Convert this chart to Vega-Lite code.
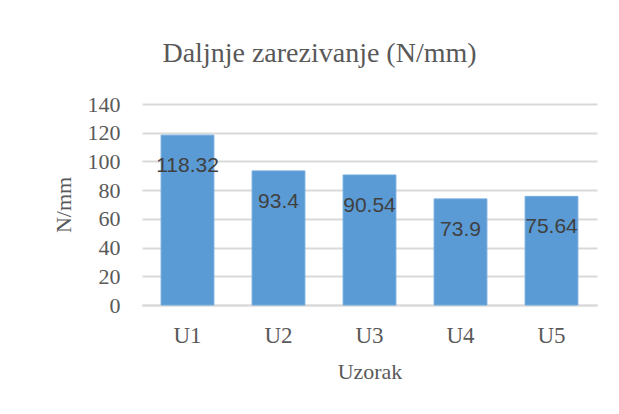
{
  "$schema": "https://vega.github.io/schema/vega-lite/v6.json",
  "autosize": "none",
  "width": 455,
  "height": 201,
  "padding": {"left": 142, "top": 104, "right": 22, "bottom": 109},
  "background": "white",
  "title": {
    "text": "Daljnje zarezivanje (N/mm)",
    "font": "Liberation Serif",
    "fontSize": 28,
    "fontWeight": "normal",
    "color": "#595959",
    "anchor": "middle",
    "baseline": "alphabetic",
    "offset": 3,
    "dx": -50
  },
  "data": {
    "values": [
      {"Uzorak": "U1", "value": 118.32, "label": "118.32"},
      {"Uzorak": "U2", "value": 93.4, "label": "93.4"},
      {"Uzorak": "U3", "value": 90.54, "label": "90.54"},
      {"Uzorak": "U4", "value": 73.9, "label": "73.9"},
      {"Uzorak": "U5", "value": 75.64, "label": "75.64"}
    ]
  },
  "encoding": {
    "x": {
      "field": "Uzorak",
      "type": "nominal",
      "sort": null,
      "scale": {"paddingInner": 0.42, "paddingOuter": 0.21},
      "axis": {
        "title": "Uzorak",
        "labelAngle": 0,
        "labelFont": "Liberation Serif",
        "labelFontSize": 23,
        "labelColor": "#595959",
        "labelPadding": 19,
        "ticks": false,
        "domainColor": "#d9d9d9",
        "domainWidth": 2,
        "titleFont": "Liberation Serif",
        "titleFontSize": 22,
        "titleFontWeight": "normal",
        "titleColor": "#595959",
        "titlePadding": 14
      }
    },
    "y": {
      "field": "value",
      "type": "quantitative",
      "scale": {"domain": [0, 140]},
      "axis": {
        "title": "N/mm",
        "values": [0, 20, 40, 60, 80, 100, 120, 140],
        "labelFont": "Liberation Serif",
        "labelFontSize": 22,
        "labelColor": "#595959",
        "labelPadding": 22,
        "ticks": false,
        "domain": false,
        "gridColor": "#d9d9d9",
        "gridWidth": 2,
        "titleFont": "Liberation Serif",
        "titleFontSize": 22,
        "titleFontWeight": "normal",
        "titleColor": "#595959",
        "titlePadding": 12
      }
    }
  },
  "layer": [
    {
      "mark": {"type": "bar", "color": "#5b9bd5", "stroke": "#6fa8dc", "strokeWidth": 1}
    },
    {
      "mark": {
        "type": "text",
        "font": "Liberation Sans",
        "fontSize": 21,
        "color": "#404040",
        "baseline": "middle",
        "dy": 31
      },
      "encoding": {"text": {"field": "label", "type": "nominal"}}
    }
  ],
  "config": {"view": {"stroke": null}}
}
